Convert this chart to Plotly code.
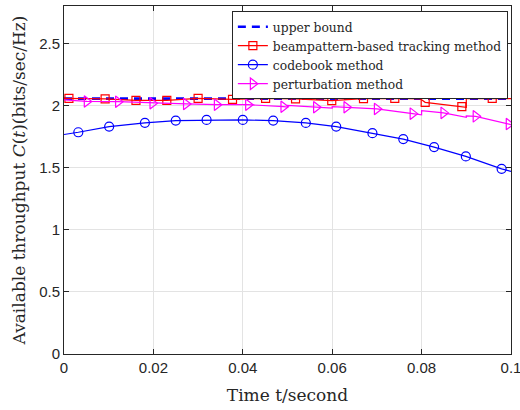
import plotly.graph_objects as go

# ---------------- data ----------------
bound_t = [0.0, 0.1]
bound_v = [2.055, 2.055]

beam_mark_t = [0.0011, 0.0092, 0.0161, 0.0230, 0.0300, 0.0377, 0.0451, 0.0518,
               0.0599, 0.0670, 0.0740, 0.0808, 0.0890, 0.0958]
beam_mark_v = [2.057, 2.052, 2.040, 2.040, 2.057, 2.048, 2.057, 2.052,
               2.038, 2.055, 2.057, 2.025, 1.990, 2.057]
beam_line_t = [0.0, 0.0011, 0.0092, 0.0161, 0.0230, 0.0300, 0.0377, 0.0451, 0.0518,
               0.0599, 0.0670, 0.0740, 0.0797, 0.0808, 0.0890, 0.0900, 0.0900, 0.0958, 0.1]
beam_line_v = [2.057, 2.057, 2.052, 2.040, 2.040, 2.057, 2.048, 2.057, 2.052,
               2.038, 2.055, 2.057, 2.053, 2.025, 1.990, 1.985, 2.055, 2.057, 2.055]

code_mark_t = [0.0032, 0.0101, 0.0181, 0.0250, 0.0319, 0.0400, 0.0468, 0.0541,
               0.0609, 0.0690, 0.0759, 0.0828, 0.0899, 0.0979]
code_mark_v = [1.784, 1.830, 1.860, 1.878, 1.883, 1.883, 1.878, 1.859,
               1.830, 1.777, 1.729, 1.665, 1.590, 1.490]
code_line_t = [0.0] + code_mark_t + [0.1]
code_line_v = [1.766] + code_mark_v + [1.469]

pert_mark_t = [0.0051, 0.0121, 0.0198, 0.0273, 0.0342, 0.0412, 0.0491, 0.0564,
               0.0632, 0.0700, 0.0780, 0.0849, 0.0921, 0.0995]
pert_mark_v = [2.032, 2.030, 2.018, 2.012, 2.006, 2.006, 1.990, 1.985,
               1.985, 1.972, 1.934, 1.940, 1.912, 1.850]
pert_line_t = [0.0, 0.0051, 0.0121, 0.0198, 0.0273, 0.0342, 0.0412, 0.0491, 0.0500, 0.0500,
               0.0564, 0.0600, 0.0600, 0.0632, 0.0700, 0.0780, 0.0800, 0.0800, 0.0849,
               0.0900, 0.0900, 0.0921, 0.0995, 0.1]
pert_line_v = [2.045, 2.032, 2.030, 2.018, 2.012, 2.006, 2.006, 1.990, 1.987, 2.000,
               1.985, 1.978, 1.990, 1.985, 1.972, 1.934, 1.925, 1.957, 1.940,
               1.905, 1.915, 1.912, 1.850, 1.846]

x_ticks = [0, 0.02, 0.04, 0.06, 0.08, 0.1]
x_labels = ["0", "0.02", "0.04", "0.06", "0.08", "0.1"]
y_ticks = [0, 0.5, 1, 1.5, 2, 2.5]
y_labels = ["0", "0.5", "1", "1.5", "2", "2.5"]

names = ["upper bound", "beampattern-based tracking method",
         "codebook method", "perturbation method"]

# ---------------- figure ----------------
RED, BLUE, MAG = "#ff0000", "#0000ff", "#ff00ff"
SERIF = "DejaVu Serif"
fig = go.Figure()

fig.add_trace(go.Scatter(x=bound_t, y=bound_v, mode="lines", showlegend=False,
                         line=dict(color=BLUE, width=2.6, dash="8px,6px")))
fig.add_trace(go.Scatter(x=beam_line_t, y=beam_line_v, mode="lines", showlegend=False,
                         line=dict(color=RED, width=1.2)))
fig.add_trace(go.Scatter(x=beam_mark_t, y=beam_mark_v, mode="markers", showlegend=False,
                         marker=dict(symbol="square-open", size=8, color=RED, line=dict(width=1.2))))
fig.add_trace(go.Scatter(x=code_line_t, y=code_line_v, mode="lines", showlegend=False,
                         line=dict(color=BLUE, width=1.2)))
fig.add_trace(go.Scatter(x=code_mark_t, y=code_mark_v, mode="markers", showlegend=False,
                         marker=dict(symbol="circle-open", size=9, color=BLUE, line=dict(width=1.2))))
fig.add_trace(go.Scatter(x=pert_line_t, y=pert_line_v, mode="lines", showlegend=False,
                         line=dict(color=MAG, width=1.2)))
fig.add_trace(go.Scatter(x=pert_mark_t, y=pert_mark_v, mode="markers", showlegend=False,
                         marker=dict(symbol="triangle-right-open", size=10, color=MAG, line=dict(width=1.2))))

# legend entries
fig.add_trace(go.Scatter(x=[None], y=[None], mode="lines", name=names[0],
                         line=dict(color=BLUE, width=2.6, dash="8px,6px")))
fig.add_trace(go.Scatter(x=[None], y=[None], mode="lines+markers", name=names[1],
                         line=dict(color=RED, width=1.2),
                         marker=dict(symbol="square-open", size=8, color=RED, line=dict(width=1.2))))
fig.add_trace(go.Scatter(x=[None], y=[None], mode="lines+markers", name=names[2],
                         line=dict(color=BLUE, width=1.2),
                         marker=dict(symbol="circle-open", size=9, color=BLUE, line=dict(width=1.2))))
fig.add_trace(go.Scatter(x=[None], y=[None], mode="lines+markers", name=names[3],
                         line=dict(color=MAG, width=1.2),
                         marker=dict(symbol="triangle-right-open", size=10, color=MAG, line=dict(width=1.2))))

axis_common = dict(showline=True, linecolor="#262626", linewidth=1, mirror="ticks",
                   ticks="inside", ticklen=5, tickcolor="#262626",
                   showgrid=True, gridcolor="#e3e3e3", gridwidth=1, zeroline=False,
                   ticklabeloverflow="allow", automargin=False,
                   tickfont=dict(family="Liberation Sans", size=15, color="#262626"))

fig.update_layout(
    width=520, height=410,
    margin=dict(l=64, r=9, t=6, b=56),
    paper_bgcolor="white", plot_bgcolor="white",
    xaxis=dict(range=[0, 0.1], tickvals=x_ticks, ticktext=x_labels,
               title=dict(text="Time t/second", standoff=14,
                          font=dict(family=SERIF, size=17, color="#262626")),
               **axis_common),
    yaxis=dict(range=[0, 2.8], tickvals=y_ticks, ticktext=y_labels,
               title=dict(text="Available throughput <i>C</i>(<i>t</i>)(bits/sec/Hz)", standoff=9,
                          font=dict(family=SERIF, size=17, color="#262626")),
               **axis_common),
    legend=dict(x=0.993, y=0.985, xanchor="right", yanchor="top",
                bgcolor="white", bordercolor="#262626", borderwidth=1,
                itemwidth=30, tracegroupgap=0,
                font=dict(family=SERIF, size=12.3, color="#262626")),
)

fig.write_html("out.html")
